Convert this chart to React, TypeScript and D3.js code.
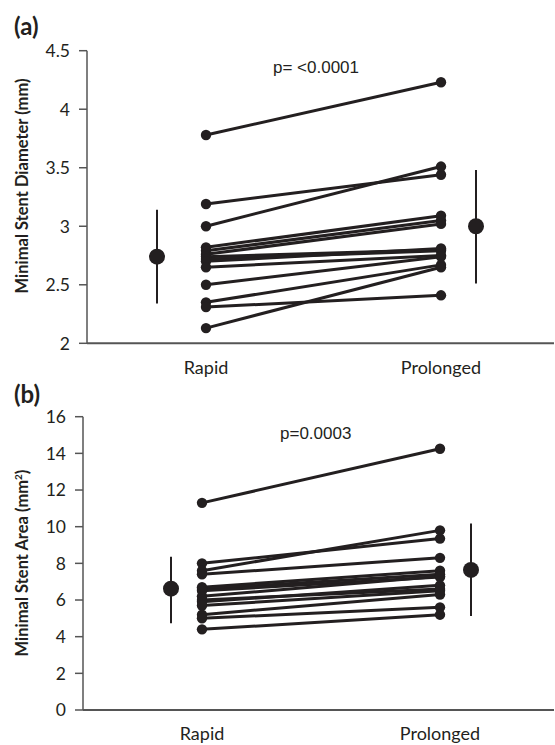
import React from "react";
import * as d3 from "d3";

const categories = ["Rapid", "Prolonged"];

// Panel (a): Minimal stent diameter (mm)
const diamRapid = [3.78, 3.19, 3.0, 2.82, 2.79, 2.76, 2.74, 2.72, 2.7, 2.65, 2.5, 2.35, 2.31, 2.13];
const diamProlonged = [4.23, 3.44, 3.51, 3.09, 3.05, 3.02, 2.8, 2.79, 2.81, 2.75, 2.74, 2.67, 2.41, 2.65];
const diamMean = [2.74, 3.0];
const diamLow = [2.34, 2.51];
const diamHigh = [3.14, 3.48];
const diamTicks = [2, 2.5, 3, 3.5, 4, 4.5];
const diamTickLabels = ["2", "2.5", "3", "3.5", "4", "4.5"];

// Panel (b): Minimal stent area (mm²)
const areaRapid = [11.3, 8.0, 7.6, 7.4, 6.7, 6.6, 6.5, 6.2, 6.0, 5.9, 5.7, 5.2, 5.0, 4.4];
const areaProlonged = [14.25, 9.35, 9.8, 8.3, 7.6, 7.4, 7.25, 7.3, 6.6, 6.8, 6.5, 6.3, 5.6, 5.2];
const areaMean = [6.62, 7.64];
const areaLow = [4.73, 5.13];
const areaHigh = [8.36, 10.18];
const areaTicks = [0, 2, 4, 6, 8, 10, 12, 14, 16];
const areaTickLabels = ["0", "2", "4", "6", "8", "10", "12", "14", "16"];

const INK = "#231f20";
const AXIS = "#555555";
const TICKFONT = "Lato, 'Open Sans', sans-serif";

type PanelProps = {
  letter: string;
  yTitle: React.ReactNode;
  rapid: number[];
  prolonged: number[];
  mean: number[];
  low: number[];
  high: number[];
  ticks: number[];
  tickLabels: string[];
  domain: [number, number];
  top: number;
  bottom: number;
  axisX: number;
  pointX: [number, number];
  meanX: [number, number];
  pText: string;
  pX: number;
  pY: number;
  letterY: number;
  titleY: number;
  titleSize: number;
  catY: number;
};

function Panel(p: PanelProps) {
  const y = d3.scaleLinear().domain(p.domain).range([p.bottom, p.top]);
  const x = d3.scalePoint<string>().domain(categories).range(p.pointX);
  const mx = d3.scalePoint<string>().domain(categories).range(p.meanX);
  const line = d3
    .line<[string, number]>()
    .x((d) => x(d[0]) as number)
    .y((d) => y(d[1]));
  return (
    <g>
      <text x={14} y={p.letterY} fontFamily={TICKFONT} fontWeight="bold" fontSize={24} fill={INK}>
        {p.letter}
      </text>
      {/* y axis */}
      <line x1={p.axisX} x2={p.axisX} y1={y(p.domain[1])} y2={y(p.domain[0])} stroke={AXIS} strokeWidth={1.5} />
      {p.ticks.map((t, i) => (
        <g key={i}>
          <line x1={p.axisX - 8} x2={p.axisX} y1={y(t)} y2={y(t)} stroke={AXIS} strokeWidth={1.5} />
          <text
            x={p.axisX - 17}
            y={y(t)}
            dy="0.36em"
            textAnchor="end"
            fontFamily={TICKFONT}
            fontSize={17.5}
            fill={INK}
          >
            {p.tickLabels[i]}
          </text>
        </g>
      ))}
      {/* x axis */}
      <line x1={p.axisX} x2={554} y1={y(p.domain[0])} y2={y(p.domain[0])} stroke={AXIS} strokeWidth={2} />
      {categories.map((c) => (
        <text
          key={c}
          x={x(c)}
          y={p.catY}
          textAnchor="middle"
          fontFamily={TICKFONT}
          fontSize={18}
          fill={INK}
        >
          {c}
        </text>
      ))}
      {/* y title */}
      <text
        transform={`translate(22,${p.titleY}) rotate(-90)`}
        textAnchor="middle"
        dy="0.35em"
        fontFamily={TICKFONT}
        fontWeight="bold"
        fontSize={p.titleSize}
        fill={INK}
      >
        {p.yTitle}
      </text>
      {/* paired lines */}
      {p.rapid.map((v, i) => (
        <path
          key={"l" + i}
          d={line([
            [categories[0], v],
            [categories[1], p.prolonged[i]],
          ]) as string}
          stroke={INK}
          strokeWidth={3}
          fill="none"
        />
      ))}
      {p.rapid.map((v, i) => (
        <g key={"p" + i}>
          <circle cx={x(categories[0])} cy={y(v)} r={5.2} fill={INK} />
          <circle cx={x(categories[1])} cy={y(p.prolonged[i])} r={5.2} fill={INK} />
        </g>
      ))}
      {/* mean ± sd */}
      {categories.map((c, i) => (
        <g key={"m" + c}>
          <line x1={mx(c)} x2={mx(c)} y1={y(p.high[i])} y2={y(p.low[i])} stroke={INK} strokeWidth={2} />
          <circle cx={mx(c)} cy={y(p.mean[i])} r={8} fill={INK} />
        </g>
      ))}
      <text x={p.pX} y={p.pY} fontFamily="'Liberation Sans', Arial, sans-serif" fontSize={17} fill={INK}>
        {p.pText}
      </text>
    </g>
  );
}

export default function App() {
  return (
    <svg
      width={555}
      height={745}
      style={{ position: "absolute", left: 0, top: 0, background: "#fff" }}
    >
      <rect width={555} height={745} fill="#fff" />
      <Panel
        letter="(a)"
        yTitle="Minimal Stent Diameter (mm)"
        rapid={diamRapid}
        prolonged={diamProlonged}
        mean={diamMean}
        low={diamLow}
        high={diamHigh}
        ticks={diamTicks}
        tickLabels={diamTickLabels}
        domain={[2, 4.5]}
        top={50.7}
        bottom={343.3}
        axisX={87}
        pointX={[206, 441]}
        meanX={[157, 476]}
        pText="p= <0.0001"
        pX={273}
        pY={72.5}
        letterY={35}
        titleY={186}
        titleSize={16.5}
        catY={374}
      />
      <Panel
        letter="(b)"
        yTitle={
          <>
            Minimal Stent Area (mm<tspan dy="-6" fontSize={10}>2</tspan>
            <tspan dy="6">)</tspan>
          </>
        }
        rapid={areaRapid}
        prolonged={areaProlonged}
        mean={areaMean}
        low={areaLow}
        high={areaHigh}
        ticks={areaTicks}
        tickLabels={areaTickLabels}
        domain={[0, 16]}
        top={416.7}
        bottom={710}
        axisX={83}
        pointX={[202, 440]}
        meanX={[171, 471]}
        pText="p=0.0003"
        pX={280}
        pY={439}
        letterY={403}
        titleY={563}
        titleSize={16.5}
        catY={740}
      />
    </svg>
  );
}
